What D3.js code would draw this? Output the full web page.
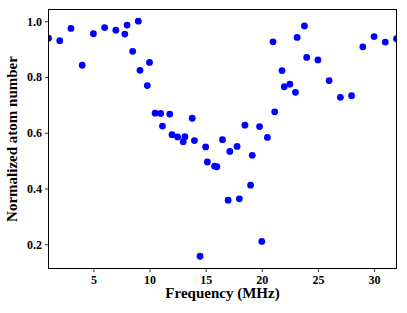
<!DOCTYPE html>
<html>
<head>
<meta charset="utf-8">
<script src="https://cdn.jsdelivr.net/npm/d3@7"></script>
<style>
  body { margin: 0; background: #fff; }
  text { font-family: "Liberation Serif", "Times New Roman", serif; font-weight: bold; }
</style>
</head>
<body>
<script>
// frequency (MHz) and normalized atom number
var freq = [1, 2, 3, 4, 5, 6, 7, 7.8, 8, 8.5, 9, 9.15, 9.8, 10, 10.5, 11, 11.15, 11.8,
  12, 12.5, 13, 13.15, 13.8, 14, 14.5, 15, 15.15, 15.8, 16, 16.5, 17, 17.15, 17.8,
  18, 18.5, 19, 19.15, 19.8, 20, 20.5, 21, 21.15, 21.8, 22, 22.5, 23, 23.15, 23.8,
  24, 25, 26, 27, 28, 29, 30, 31, 32]
var atoms = [0.939, 0.930, 0.974, 0.842, 0.955, 0.977, 0.968, 0.954, 0.986, 0.892, 1.000,
  0.824, 0.769, 0.852, 0.670, 0.669, 0.624, 0.667, 0.593, 0.585, 0.568, 0.586, 0.652,
  0.572, 0.157, 0.549, 0.495, 0.480, 0.478, 0.575, 0.358, 0.533, 0.551, 0.363, 0.627,
  0.412, 0.519, 0.622, 0.210, 0.583, 0.926, 0.675, 0.823, 0.765, 0.774, 0.745, 0.942,
  0.983, 0.870, 0.861, 0.787, 0.727, 0.733, 0.908, 0.945, 0.925, 0.937]
var xTicks = [5, 10, 15, 20, 25, 30]
var yTicks = [0.2, 0.4, 0.6, 0.8, 1.0]

var W = 407, H = 313
// plot box (window.top is reserved, so use other names)
var pl = 48.5, pr = 396.5, pt = 9.5, pb = 268.5

var svg = d3.select("body").append("svg")
    .attr("width", W)
    .attr("height", H)

var x = d3.scaleLinear().domain([1, 32]).range([pl, pr])
var y = d3.scaleLinear().domain([0.113, 1.042]).range([pb, pt])

svg.append("clipPath").attr("id", "clip")
  .append("rect")
    .attr("x", pl).attr("y", pt)
    .attr("width", pr - pl).attr("height", pb - pt)

// points
svg.append("g")
    .attr("clip-path", "url(#clip)")
  .selectAll("circle")
    .data(freq)
  .enter().append("circle")
    .attr("cx", function(d) { return x(d) })
    .attr("cy", function(d, i) { return y(atoms[i]) })
    .attr("r", 3.4)
    .style("fill", "#0000ff")

// axes
var xAxis = svg.append("g")
    .attr("transform", "translate(0," + pb + ")")
    .call(d3.axisBottom(x).tickValues(xTicks).tickSize(3.5).tickPadding(3).tickFormat(d3.format("d")))
var yAxis = svg.append("g")
    .attr("transform", "translate(" + pl + ",0)")
    .call(d3.axisLeft(y).tickValues(yTicks).tickSize(3.5).tickPadding(3).tickFormat(d3.format(".1f")))

;[xAxis, yAxis].forEach(function(a) {
  a.select(".domain").remove()
  a.selectAll("line").attr("stroke", "#000").attr("stroke-width", 0.8)
  a.selectAll("text").style("font-size", "12px").attr("fill", "#000")
})

// frame
svg.append("rect")
    .attr("x", pl).attr("y", pt)
    .attr("width", pr - pl).attr("height", pb - pt)
    .style("fill", "none")
    .style("stroke", "#000")
    .style("stroke-width", 1)

// labels
svg.append("text")
    .attr("x", (pl + pr) / 2)
    .attr("y", 298)
    .attr("text-anchor", "middle")
    .style("font-size", "15px")
    .text("Frequency (MHz)")

svg.append("text")
    .attr("transform", "translate(17," + (pt + pb) / 2 + ") rotate(-90)")
    .attr("text-anchor", "middle")
    .style("font-size", "15px")
    .text("Normalized atom number")
</script>
</body>
</html>
